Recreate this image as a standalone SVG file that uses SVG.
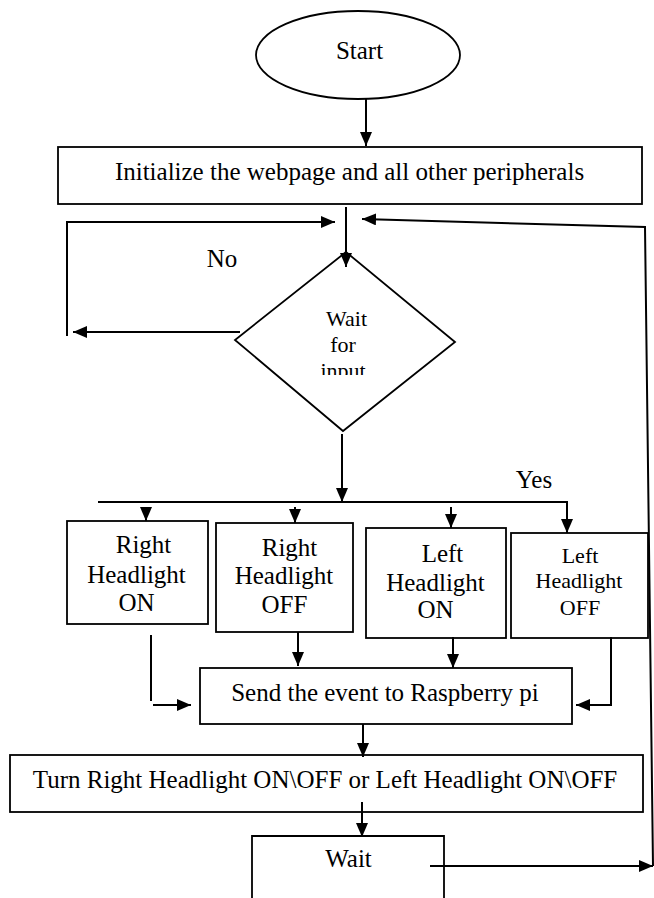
<svg xmlns="http://www.w3.org/2000/svg" width="654" height="898" viewBox="0 0 654 898">
  <defs>
    <marker id="arrow" viewBox="0 0 14 12" refX="14" refY="6" markerWidth="14" markerHeight="12" markerUnits="userSpaceOnUse" orient="auto">
      <path d="M0,0 L14,6 L0,12 z" fill="#000"/>
    </marker>
    <clipPath id="diamondText">
      <rect x="280" y="290" width="130" height="85"/>
    </clipPath>
  </defs>
  <style>
    .shape { fill: #fff; stroke: #000; stroke-width: 1.8; }
    .link { fill: none; stroke: #000; stroke-width: 2; }
    .arr { marker-end: url(#arrow); }
    text { font-family: "Liberation Serif", "Times New Roman", serif; font-size: 25px; fill: #000; text-anchor: middle; }
    .small { font-size: 22px; }
  </style>
  <rect width="654" height="898" fill="#fff"/>

  <g id="start">
    <ellipse class="shape" cx="358" cy="55" rx="102" ry="44"/>
    <text x="359.5" y="59">Start</text>
  </g>

  <g id="init">
    <rect class="shape" x="58" y="147" width="584" height="57"/>
    <text x="349.5" y="180">Initialize the webpage and all other peripherals</text>
  </g>

  <g id="decision">
    <polygon class="shape" points="346,252 455,342 343,431 235,340"/>
    <g clip-path="url(#diamondText)">
      <text class="small" x="346.5" y="326">Wait</text>
      <text class="small" x="343" y="352">for</text>
      <text class="small" x="343" y="378">input</text>
    </g>
  </g>

  <g id="label-no">
    <text x="222" y="267">No</text>
  </g>
  <g id="label-yes">
    <text x="534" y="488" font-size="23">Yes</text>
  </g>

  <g id="right-on">
    <rect class="shape" x="67" y="521" width="141" height="103"/>
    <text x="143.5" y="553">Right</text>
    <text x="136.5" y="583">Headlight</text>
    <text x="136.5" y="611">ON</text>
  </g>

  <g id="right-off">
    <rect class="shape" x="216" y="523" width="137" height="109"/>
    <text x="289.5" y="556">Right</text>
    <text x="284" y="584">Headlight</text>
    <text x="284.5" y="613">OFF</text>
  </g>

  <g id="left-on">
    <rect class="shape" x="366" y="528" width="140" height="110"/>
    <text x="442.5" y="562">Left</text>
    <text x="435.5" y="591">Headlight</text>
    <text x="435.5" y="618">ON</text>
  </g>

  <g id="left-off">
    <rect class="shape" x="511" y="533" width="137" height="105"/>
    <text class="small" x="580" y="563">Left</text>
    <text class="small" x="579" y="588">Headlight</text>
    <text class="small" x="580" y="615">OFF</text>
  </g>

  <g id="send">
    <rect class="shape" x="200" y="668" width="372" height="56"/>
    <text x="385" y="701">Send the event to Raspberry pi</text>
  </g>

  <g id="turn">
    <rect class="shape" x="10" y="755" width="633" height="57"/>
    <text x="325" y="788">Turn Right Headlight ON\OFF or Left Headlight ON\OFF</text>
  </g>

  <g id="wait">
    <path class="shape" d="M252,900 V836 H444 V900"/>
    <text x="348.5" y="867">Wait</text>
  </g>

  <!-- connectors, drawn over the shapes -->
  <g id="connectors">
    <line class="link arr" x1="366" y1="99" x2="366" y2="146"/>
    <line class="link arr" x1="346" y1="207" x2="346" y2="267"/>
    <!-- "No" loop back to the top of the decision -->
    <line class="link arr" x1="240" y1="332" x2="73" y2="332"/>
    <polyline class="link arr" points="67,336 67,222 335,222"/>
    <!-- return from Wait to the decision -->
    <polyline class="link arr" points="430,866 653,866"/>
    <polyline class="link arr" points="653,866 645,227 362,219"/>
    <!-- "Yes" branch -->
    <line class="link arr" x1="342" y1="434" x2="342" y2="502"/>
    <polyline class="link arr" points="98,502 567,502 567,533"/>
    <line class="link arr" x1="146" y1="507" x2="146" y2="521"/>
    <line class="link arr" x1="295" y1="507" x2="295" y2="523"/>
    <line class="link arr" x1="451" y1="507" x2="451" y2="528"/>
    <!-- into Send -->
    <line class="link" x1="151" y1="635" x2="151" y2="701"/>
    <line class="link arr" x1="153" y1="705" x2="191" y2="705"/>
    <line class="link arr" x1="298" y1="632" x2="298" y2="666"/>
    <line class="link arr" x1="453" y1="637" x2="453" y2="668"/>
    <polyline class="link arr" points="611,637 611,705 576,705"/>
    <line class="link arr" x1="363" y1="724" x2="363" y2="757"/>
    <line class="link arr" x1="362" y1="802" x2="362" y2="837"/>
  </g>
</svg>
